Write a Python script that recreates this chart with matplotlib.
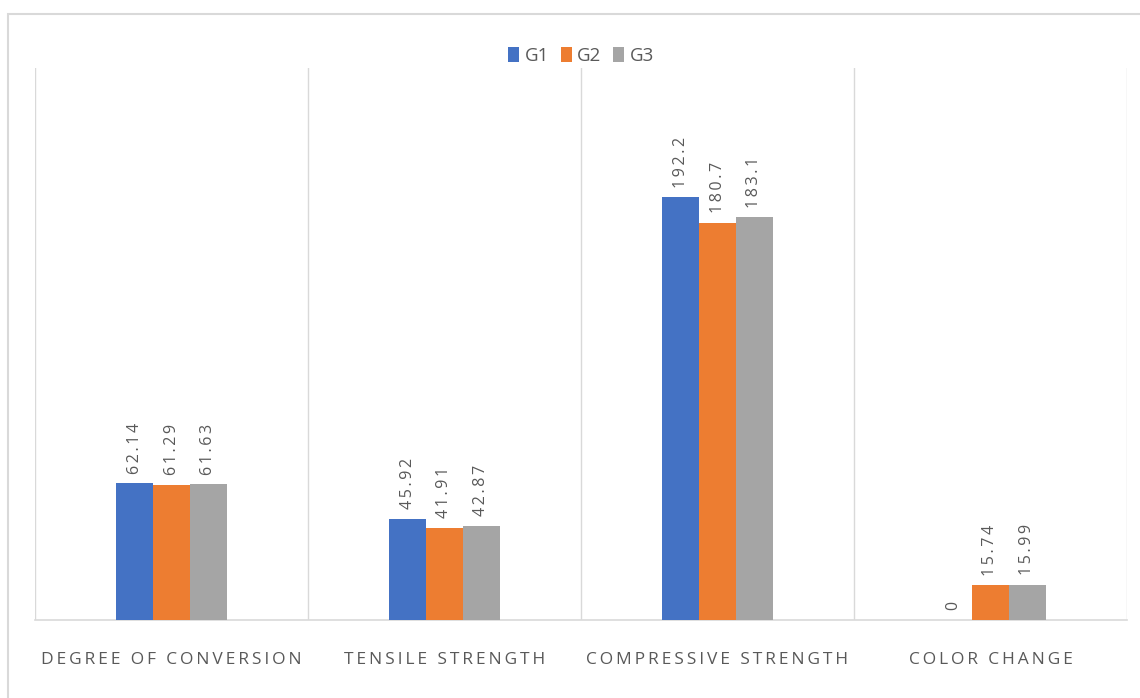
import matplotlib.pyplot as plt
import numpy as np
from matplotlib.patches import Rectangle

# test results per property for each group
categories = ["DEGREE OF CONVERSION", "TENSILE STRENGTH", "COMPRESSIVE STRENGTH", "COLOR CHANGE"]
groups = ["G1", "G2", "G3"]
g1 = [62.14, 45.92, 192.2, 0]
g2 = [61.29, 41.91, 180.7, 15.74]
g3 = [61.63, 42.87, 183.1, 15.99]
colors = ["#4472C4", "#ED7D31", "#A5A5A5"]

plt.rcParams['font.family'] = ['Open Sans', 'DejaVu Sans']

fig = plt.figure(figsize=(11.4, 6.98), dpi=100)
ax = fig.add_axes([35 / 1140, 78 / 698, 1092 / 1140, 552 / 698])

# outer chart border
fig.patches.append(Rectangle((8 / 1140, -0.01), 1.0, (698 - 14) / 698 + 0.01,
                             transform=fig.transFigure, fill=False,
                             edgecolor="#d9d9d9", linewidth=1.5))


def spread(s):
    # widen letter spacing the way the chart labels are drawn
    return "\u2009".join(s)


x = np.arange(len(categories))
w = 0.135
for i, (vals, name) in enumerate(zip([g1, g2, g3], groups)):
    pos = x + (i - 1) * w
    ax.bar(pos, vals, width=w, color=colors[i], label=name, zorder=3)
    for px, v in zip(pos, vals):
        ax.annotate(spread(f"{v:g}"), (px, v), xytext=(0, 7), textcoords="offset points",
                    rotation=90, ha="center", va="bottom", fontsize=11.5,
                    color="#595959")

ax.set_xlim(-0.5, 3.5)
ax.set_ylim(0, 251)
ax.set_yticks([])
ax.set_xticks(x)
ax.set_xticklabels([spread(c) for c in categories], fontsize=12.5, color="#595959")
ax.tick_params(axis="x", length=0, pad=23)

# category separators
for b in np.arange(-0.5, 4.0, 1.0):
    ax.axvline(b, color="#d9d9d9", linewidth=1, zorder=1)

for s in ["top", "left", "right"]:
    ax.spines[s].set_visible(False)
ax.spines["bottom"].set_color("#d9d9d9")
ax.spines["bottom"].set_linewidth(1.2)

leg = ax.legend(loc="lower center", bbox_to_anchor=(0.5, 0.975), ncol=3, frameon=False,
                fontsize=13.5, handlelength=0.6, handleheight=0.9, handletextpad=0.3,
                columnspacing=0.6)
for t in leg.get_texts():
    t.set_color("#595959")

fig.savefig("out.png", dpi=100)
